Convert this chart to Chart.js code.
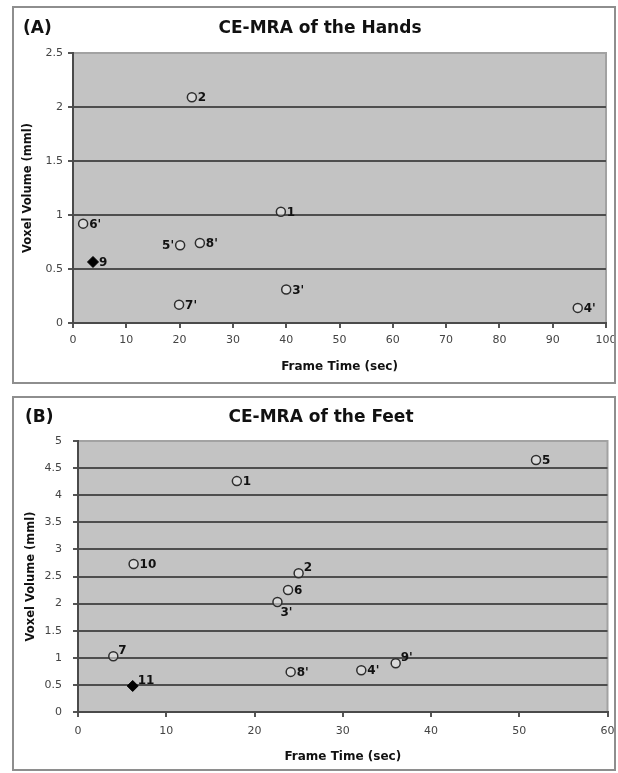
<!DOCTYPE html>
<html>
<head>
<meta charset="utf-8">
<script src="https://cdn.jsdelivr.net/npm/chart.js@4.4.0/dist/chart.umd.min.js"></script>
<style>
  html, body { margin: 0; padding: 0; background: #fff; }
  body { width: 618px; height: 773px; position: relative; overflow: hidden; }
  .frame { position: absolute; box-sizing: border-box; border: 2px solid #8e8e8e; }
  canvas { position: absolute; }
</style>
</head>
<body>
<div class="frame" style="left:12px; top:6px; width:604px; height:378px;"></div>
<div class="frame" style="left:12px; top:396px; width:604px; height:375px;"></div>
<canvas id="chartA" width="600" height="374" style="left:14px; top:8px; width:600px; height:374px;"></canvas>
<canvas id="chartB" width="600" height="371" style="left:14px; top:398px; width:600px; height:371px;"></canvas>
<script>
// ---------- Panel A: CE-MRA of the Hands ----------
const handsLabels = ["1", "2", "3'", "4'", "5'", "6'", "7'", "8'"];
const handsX      = [39.0, 22.3, 40.0, 94.7, 20.1, 1.9, 19.9, 23.8];
const handsY      = [1.03, 2.09, 0.31, 0.14, 0.72, 0.92, 0.17, 0.74];
const handsAnchor = ["r", "r", "r", "r", "l", "r", "r", "r"];
const handsFilledLabels = ["9"];
const handsFilledX      = [3.75];
const handsFilledY      = [0.565];
const handsFilledAnchor = ["r"];
const handsXTicks = [0, 10, 20, 30, 40, 50, 60, 70, 80, 90, 100];
const handsYTicks = [0, 0.5, 1, 1.5, 2, 2.5];

// ---------- Panel B: CE-MRA of the Feet ----------
const feetLabels = ["1", "2", "3'", "4'", "5", "6", "7", "8'", "9'", "10"];
const feetX      = [18.0, 25.0, 22.6, 32.1, 51.9, 23.8, 4.0, 24.1, 36.0, 6.3];
const feetY      = [4.26, 2.56, 2.03, 0.77, 4.65, 2.25, 1.03, 0.74, 0.90, 2.73];
const feetAnchor = ["r", "ur", "br", "r", "r", "r", "ur", "r", "ur", "r"];
const feetFilledLabels = ["11"];
const feetFilledX      = [6.2];
const feetFilledY      = [0.48];
const feetFilledAnchor = ["ur"];
const feetXTicks = [0, 10, 20, 30, 40, 50, 60];
const feetYTicks = [0, 0.5, 1, 1.5, 2, 2.5, 3, 3.5, 4, 4.5, 5];

const FONT = "'DejaVu Sans', 'Liberation Sans', Arial, sans-serif";

function toPoints(xs, ys) { return xs.map((x, i) => ({ x: x, y: ys[i] })); }

const plotBg = {
  id: 'plotBg',
  beforeDraw(chart) {
    const { ctx, chartArea: a } = chart;
    ctx.save();
    ctx.fillStyle = '#c3c3c3';
    ctx.fillRect(a.left, a.top, a.right - a.left, a.bottom - a.top);
    ctx.strokeStyle = '#a2a2a2';
    ctx.lineWidth = 2;
    ctx.beginPath();
    ctx.moveTo(a.left, a.top);
    ctx.lineTo(a.right, a.top);
    ctx.lineTo(a.right, a.bottom);
    ctx.stroke();
    ctx.restore();
  }
};

const pointText = {
  id: 'pointText',
  afterDatasetsDraw(chart) {
    const ctx = chart.ctx;
    ctx.save();
    ctx.font = "bold 12px " + FONT;
    ctx.fillStyle = '#111';
    chart.data.datasets.forEach((ds, di) => {
      const meta = chart.getDatasetMeta(di);
      meta.data.forEach((el, i) => {
        const t = ds.pointText[i];
        const an = ds.pointAnchor[i];
        let x = el.x, y = el.y;
        if (an === 'l') { ctx.textAlign = 'right'; ctx.textBaseline = 'middle'; x -= 6; y += 1; }
        else if (an === 'ur') { ctx.textAlign = 'left'; ctx.textBaseline = 'middle'; x += 5; y -= 5; }
        else if (an === 'br') { ctx.textAlign = 'left'; ctx.textBaseline = 'middle'; x += 3; y += 11; }
        else { ctx.textAlign = 'left'; ctx.textBaseline = 'middle'; x += 6; y += 1; }
        ctx.fillText(t, x, y);
      });
    });
    ctx.restore();
  }
};

function headings(panel, title, px, py, tx, ty) {
  return {
    id: 'headings',
    afterDraw(chart) {
      const ctx = chart.ctx;
      ctx.save();
      ctx.fillStyle = '#111';
      ctx.textBaseline = 'middle';
      ctx.font = "bold 17px " + FONT;
      ctx.textAlign = 'left';
      ctx.fillText(panel, px, py);
      ctx.textAlign = 'center';
      ctx.fillText(title, tx, ty);
      ctx.restore();
    }
  };
}

function makeChart(id, opt) {
  const yMax = opt.yTicks[opt.yTicks.length - 1];
  return new Chart(document.getElementById(id), {
    type: 'scatter',
    data: {
      datasets: [
        {
          data: toPoints(opt.xs, opt.ys),
          pointText: opt.labels,
          pointAnchor: opt.anchors,
          pointStyle: 'circle',
          pointRadius: 4.5,
          pointHoverRadius: 4.5,
          pointBorderWidth: 1.5,
          pointBorderColor: '#2e2e2e',
          pointBackgroundColor: 'rgba(235,235,235,0.55)'
        },
        {
          data: toPoints(opt.fxs, opt.fys),
          pointText: opt.flabels,
          pointAnchor: opt.fanchors,
          pointStyle: 'rectRot',
          pointRadius: 5.5,
          pointHoverRadius: 5.5,
          pointBorderWidth: 1,
          pointBorderColor: '#000',
          pointBackgroundColor: '#000'
        }
      ]
    },
    options: {
      responsive: false,
      animation: false,
      events: [],
      layout: { padding: { top: opt.padTop, right: opt.padRight, left: 0, bottom: 0 } },
      plugins: { legend: { display: false }, tooltip: { enabled: false }, title: { display: false } },
      scales: {
        x: {
          type: 'linear',
          min: opt.xTicks[0],
          max: opt.xTicks[opt.xTicks.length - 1],
          afterBuildTicks(s) { s.ticks = opt.xTicks.map(v => ({ value: v })); },
          afterFit(s) { s.height = opt.xH; s.paddingLeft = 0; s.paddingRight = 0; },
          grid: { drawOnChartArea: false, drawTicks: true, tickLength: 5, tickColor: '#555', lineWidth: 2 },
          border: { display: true, color: '#4a4a4a', width: 2 },
          ticks: { color: '#444', font: { family: FONT, size: 11 }, padding: opt.xTickPad, maxRotation: 0, callback: v => String(v) },
          title: { display: true, text: 'Frame Time (sec)', color: '#111', font: { family: FONT, size: 12, weight: 'bold' }, padding: { top: 0, bottom: opt.xTitlePad } }
        },
        y: {
          type: 'linear',
          min: opt.yTicks[0],
          max: yMax,
          afterBuildTicks(s) { s.ticks = opt.yTicks.map(v => ({ value: v })); },
          afterFit(s) { s.width = opt.yW; },
          grid: {
            drawTicks: true, tickLength: 5, tickColor: '#555',
            lineWidth: 2,
            color: ctx => (ctx.tick && ctx.tick.value === yMax) ? 'rgba(0,0,0,0)' : '#4e4e4e'
          },
          border: { display: true, color: '#4a4a4a', width: 2 },
          ticks: { color: '#444', font: { family: FONT, size: 11 }, padding: opt.yTickPad, callback: v => String(v) },
          title: { display: true, text: 'Voxel Volume (mml)', color: '#111', font: { family: FONT, size: 11.5, weight: 'bold' }, padding: { top: opt.yTitlePad, bottom: 0 } }
        }
      }
    },
    plugins: [plotBg, pointText, headings(opt.panel, opt.title, opt.px, opt.py, opt.tx, opt.ty)]
  });
}

makeChart('chartA', {
  labels: handsLabels, xs: handsX, ys: handsY, anchors: handsAnchor,
  flabels: handsFilledLabels, fxs: handsFilledX, fys: handsFilledY, fanchors: handsFilledAnchor,
  xTicks: handsXTicks, yTicks: handsYTicks,
  padTop: 45, padRight: 8, xH: 59, yW: 59,
  xTickPad: 6, xTitlePad: 8, yTickPad: 5, yTitlePad: 7,
  panel: '(A)', title: 'CE-MRA of the Hands', px: 9, py: 21, tx: 306, ty: 21
});

makeChart('chartB', {
  labels: feetLabels, xs: feetX, ys: feetY, anchors: feetAnchor,
  flabels: feetFilledLabels, fxs: feetFilledX, fys: feetFilledY, fanchors: feetFilledAnchor,
  xTicks: feetXTicks, yTicks: feetYTicks,
  padTop: 43, padRight: 5, xH: 57, yW: 64,
  xTickPad: 8, xTitlePad: 5, yTickPad: 11, yTitlePad: 10,
  panel: '(B)', title: 'CE-MRA of the Feet', px: 11, py: 20, tx: 307, ty: 20
});
</script>
</body>
</html>
